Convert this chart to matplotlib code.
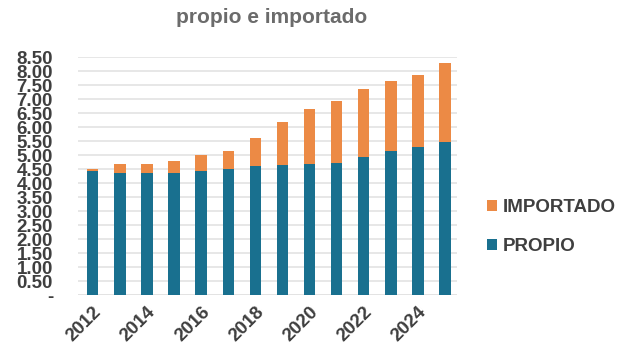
import numpy as np
import matplotlib.pyplot as plt

plt.rcParams['font.family'] = ['Liberation Sans', 'DejaVu Sans']

years = [2012, 2013, 2014, 2015, 2016, 2017, 2018, 2019, 2020, 2021, 2022, 2023, 2024, 2025]
propio = [4.42, 4.35, 4.35, 4.35, 4.44, 4.49, 4.60, 4.63, 4.69, 4.71, 4.93, 5.14, 5.30, 5.46]
total = [4.49, 4.67, 4.67, 4.79, 4.99, 5.15, 5.61, 6.18, 6.65, 6.93, 7.36, 7.65, 7.87, 8.28]
importado = [t - p for t, p in zip(total, propio)]
ytick_vals = np.arange(0, 8.51, 0.5)
ytick_labels = ['-'] + [f'{v:.2f}' for v in ytick_vals[1:]]

blue = '#19708f'
orange = '#ec8a45'
txt = '#3f3f3f'

fig = plt.figure(figsize=(6.35, 3.55), dpi=100)
ax = fig.add_axes([0.123, 0.169, 0.597, 0.67])

x = np.arange(len(years))
ax.bar(x, propio, width=0.42, color=blue, label='PROPIO', zorder=3)
ax.bar(x, importado, width=0.42, bottom=propio, color=orange, label='IMPORTADO', zorder=3)

ax.set_xlim(-0.54, 13.45)
ax.set_ylim(0, 8.5)
ax.set_yticks(ytick_vals)
ax.set_yticklabels(ytick_labels, fontsize=13.5, fontweight='bold', color=txt)
ax.tick_params(axis='y', length=0, pad=18)
ax.grid(axis='y', color='#e3e3e3', linewidth=1.2, zorder=0)

ax.set_xticks(x[::2])
ax.set_xticklabels([str(y) for y in years[::2]], rotation=45, ha='right', va='top',
                   rotation_mode='anchor', fontsize=13.5, fontweight='bold', color=txt)
ax.tick_params(axis='x', length=0, pad=6)

for s in ax.spines.values():
    s.set_visible(False)
ax.axhline(0, color='#e3e3e3', linewidth=1.2, zorder=1)

fig.text(0.428, 0.95, 'propio e importado', ha='center', va='center',
         fontsize=15, fontweight='bold', color='#6b6b6b')

h, l = ax.get_legend_handles_labels()
fig.legend(h[::-1], l[::-1], loc='center left', bbox_to_anchor=(0.74, 0.36),
           frameon=False, labelspacing=1.15, handlelength=0.55,
           handleheight=0.55, handletextpad=0.3, prop={'weight': 'bold', 'size': 13.5},
           labelcolor=txt)

fig.savefig('out.png', dpi=100)
